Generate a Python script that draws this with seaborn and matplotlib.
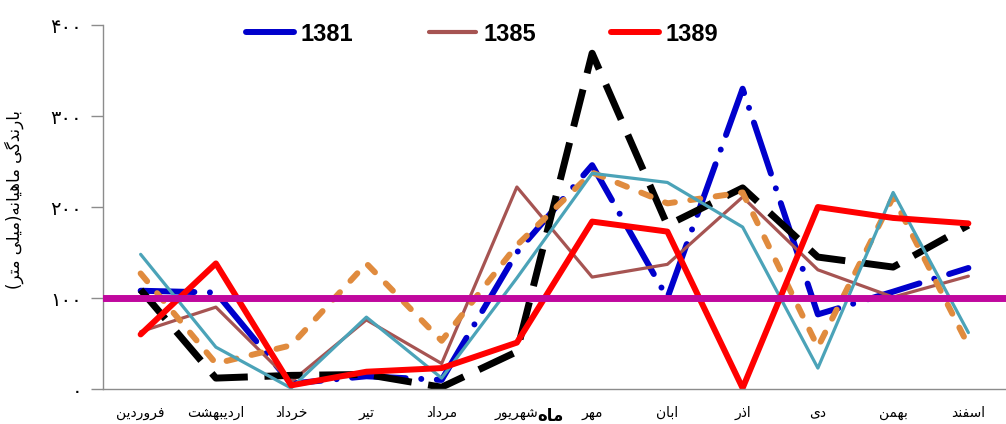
import seaborn as sns
import matplotlib.pyplot as plt
from matplotlib.lines import Line2D

# monthly rainfall (mm)
months = ["فروردین", "اردیبهشت", "خرداد", "تیر", "مرداد", "شهریور",
          "مهر", "ابان", "اذر", "دی", "بهمن", "اسفند"]
rain_1381 = [108, 106, 6, 14, 10, 150, 246, 100, 330, 82, 107, 133]
rain_1385 = [63, 90, 8, 76, 28, 222, 123, 137, 211, 131, 101, 124]
rain_1389 = [60, 138, 4, 19, 23, 51, 184, 173, 1, 200, 188, 182]
rain_black = [109, 12, 15, 16, 2, 41, 369, 180, 221, 145, 134, 180]
rain_orange = [127, 28, 48, 138, 53, 158, 238, 204, 216, 46, 211, 48]
rain_teal = [148, 46, 1, 79, 12, 122, 237, 227, 178, 23, 216, 62]
mean_rain = 100
legend_years = ["1381", "1385", "1389"]
y_ticks = [0, 100, 200, 300, 400]
y_tick_labels = ["۰", "۱۰۰", "۲۰۰", "۳۰۰", "۴۰۰"]
y_title = "بارندگی ماهیانه(میلی متر)"
x_title = "ماه"

# very small Persian shaper: matplotlib does no Arabic shaping / bidi
FORMS = {
    "ا": ("\uFE8D", "\uFE8E", None, None),
    "آ": ("\uFE81", "\uFE82", None, None),
    "ب": ("\uFE8F", "\uFE90", "\uFE91", "\uFE92"),
    "ت": ("\uFE95", "\uFE96", "\uFE97", "\uFE98"),
    "خ": ("\uFEA5", "\uFEA6", "\uFEA7", "\uFEA8"),
    "د": ("\uFEA9", "\uFEAA", None, None),
    "ذ": ("\uFEAB", "\uFEAC", None, None),
    "ر": ("\uFEAD", "\uFEAE", None, None),
    "ز": ("\uFEAF", "\uFEB0", None, None),
    "س": ("\uFEB1", "\uFEB2", "\uFEB3", "\uFEB4"),
    "ش": ("\uFEB5", "\uFEB6", "\uFEB7", "\uFEB8"),
    "ف": ("\uFED1", "\uFED2", "\uFED3", "\uFED4"),
    "ل": ("\uFEDD", "\uFEDE", "\uFEDF", "\uFEE0"),
    "م": ("\uFEE1", "\uFEE2", "\uFEE3", "\uFEE4"),
    "ن": ("\uFEE5", "\uFEE6", "\uFEE7", "\uFEE8"),
    "ه": ("\uFEE9", "\uFEEA", "\uFEEB", "\uFEEC"),
    "و": ("\uFEED", "\uFEEE", None, None),
    "ی": ("\uFBFC", "\uFBFD", "\uFBFE", "\uFBFF"),
    "گ": ("\uFB92", "\uFB93", "\uFB94", "\uFB95"),
}


def fa(text):
    out = []
    for i, ch in enumerate(text):
        if ch not in FORMS:
            out.append(ch)
            continue
        prev = text[i - 1] if i > 0 else ""
        nxt = text[i + 1] if i + 1 < len(text) else ""
        iso, fin, ini, med = FORMS[ch]
        join_prev = prev in FORMS and FORMS[prev][2] is not None
        join_next = ini is not None and nxt in FORMS
        if join_prev and join_next:
            out.append(med)
        elif join_prev:
            out.append(fin)
        elif join_next:
            out.append(ini)
        else:
            out.append(iso)
    mirror = {"(": ")", ")": "("}
    return "".join(mirror.get(c, c) for c in reversed(out))


sns.set_style("white")
plt.rcParams["font.family"] = ["DejaVu Sans"]
plt.rcParams["text.color"] = "black"
plt.rcParams["axes.labelcolor"] = "black"
plt.rcParams["xtick.color"] = "black"
plt.rcParams["ytick.color"] = "black"

fig = plt.figure(figsize=(10.06, 4.24), dpi=100)
ax = fig.add_axes([0.1024, 0.0825, 0.8976, 0.8585])
x = list(range(len(months)))

sns.lineplot(x=x, y=rain_1381, ax=ax, color="#0000CC", lw=4.3,
             linestyle=(0, (9, 2.6, 0.01, 2.6)), dash_capstyle="round")
sns.lineplot(x=x, y=rain_1385, ax=ax, color="#A65452", lw=2.3)
sns.lineplot(x=x, y=rain_black, ax=ax, color="black", lw=5,
             linestyle=(0, (5.5, 2.4)))
sns.lineplot(x=x, y=rain_orange, ax=ax, color="#E08B3E", lw=4.3,
             linestyle=(0, (1.7, 2.6)), dash_capstyle="round")
sns.lineplot(x=x, y=rain_teal, ax=ax, color="#4BA3B8", lw=2.3)
sns.lineplot(x=x, y=rain_1389, ax=ax, color="#FF0000", lw=4.3)
ax.axhline(mean_rain, color="#C0089E", lw=5, zorder=5)

ax.set_xlim(-0.5, 11.5)
ax.set_ylim(0, 400)
ax.set_xticks(x)
ax.set_xticklabels([fa(m) for m in months], fontsize=10)
ax.set_yticks(y_ticks)
ax.set_yticklabels(y_tick_labels, fontsize=14)
ax.tick_params(axis="x", length=0, pad=12)
ax.tick_params(axis="y", length=9, width=1, color="#8c8c8c", pad=6,
               left=True, labelcolor="black")

for side in ["top", "right"]:
    ax.spines[side].set_visible(False)
for side in ["left", "bottom"]:
    ax.spines[side].set_color("#8c8c8c")
    ax.spines[side].set_linewidth(1)

ax.set_ylabel(fa(y_title), fontsize=12)
ax.yaxis.set_label_coords(-0.088, 0.52)
ax.set_xlabel(fa(x_title), fontsize=12, fontweight="bold")
ax.xaxis.set_label_coords(0.495, -0.05)

handles = [
    Line2D([], [], color="#0000CC", lw=4.3, solid_capstyle="round"),
    Line2D([], [], color="#A65452", lw=3, solid_capstyle="round"),
    Line2D([], [], color="#FF0000", lw=4.3),
]
ax.legend(handles, legend_years, ncol=3, frameon=False, loc="center",
          bbox_to_anchor=(0.42, 0.975), handlelength=2.0, handletextpad=0.3,
          columnspacing=3.2, labelcolor="black",
          prop={"family": "Liberation Sans", "size": 17, "weight": "bold"})

fig.savefig("out.png", dpi=100)
